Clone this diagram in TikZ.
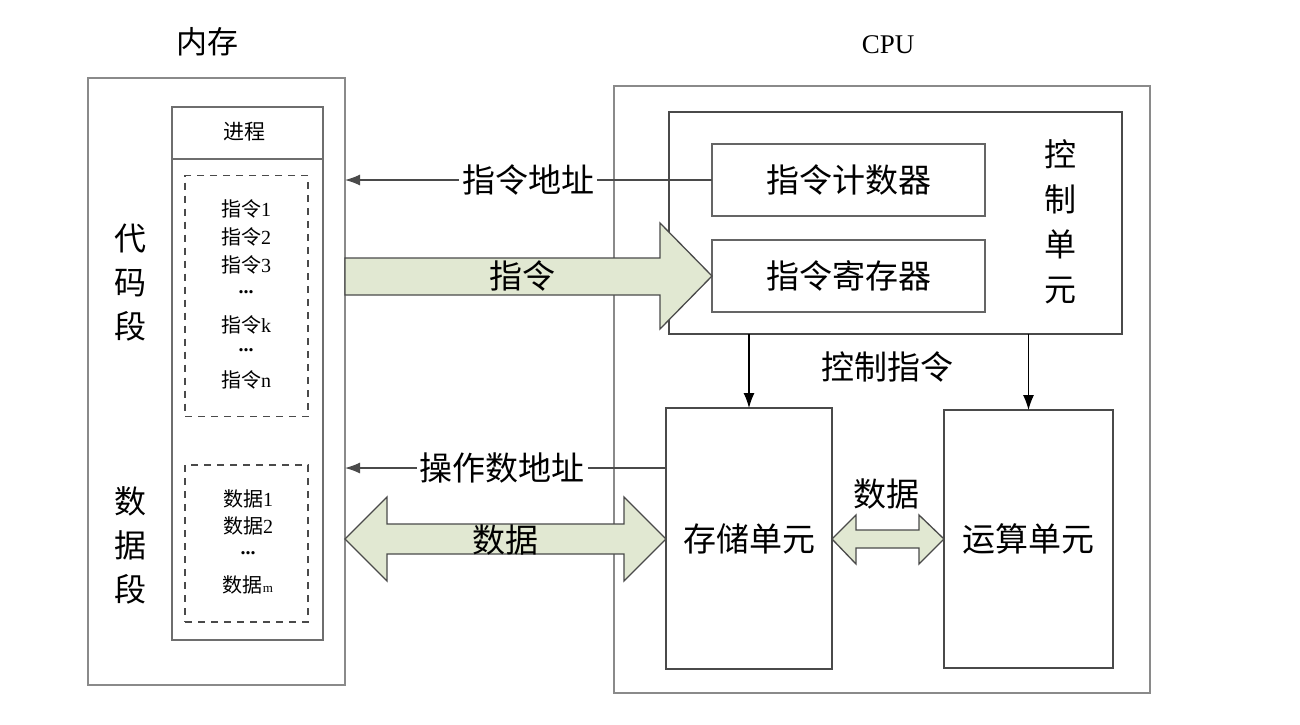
\documentclass[tikz,border=0pt]{standalone}
\usepackage{fontspec}
\setmainfont{Liberation Serif}
\newfontfamily\cjk{Noto Sans CJK SC}
\usetikzlibrary{arrows.meta,calc}
\definecolor{boxgray}{HTML}{8A8A8A}
\definecolor{darkgray}{HTML}{4A4A4A}
\definecolor{arrowfill}{HTML}{E1E8D2}
\begin{document}
\begin{tikzpicture}[x=1pt,y=-1pt,
  box/.style={draw=boxgray,line width=1.8pt,inner sep=0pt,outer sep=0pt},
  dbox/.style={draw=darkgray,line width=1.4pt,inner sep=0pt,outer sep=0pt},
  dashbox/.style={draw=darkgray,line width=1.3pt,dash pattern=on 7pt off 6pt,inner sep=0pt,outer sep=0pt},
  big/.style={font=\cjk\fontsize{33}{38}\selectfont,inner sep=1pt},
  mid/.style={font=\cjk\fontsize{21}{24}\selectfont,inner sep=1pt},
  small/.style={font=\cjk\fontsize{20}{23}\selectfont,inner sep=1pt},
  vert/.style={font=\cjk\fontsize{32}{44}\selectfont,align=center,inner sep=0pt},
  arr/.style={-{Latex[length=15pt,width=11pt]},line width=1.2pt,draw=black},
  barrow/.style={fill=arrowfill,draw=darkgray,line width=1.3pt,line join=miter}
]
\useasboundingbox (0,0) rectangle (1300,724);
\fill[white] (0,0) rectangle (1300,724);

% ---- memory side ----
\node[font=\cjk\fontsize{31}{34}\selectfont] (memlabel) at (207,42) {内存};
\node[box,minimum width=257,minimum height=607] (mem) at (216.5,381.5) {};
\node[box,draw=darkgray!80,minimum width=151,minimum height=533] (proc) at (247.5,373.5) {};
\draw[draw=darkgray!80,line width=1.8pt] (proc.west |- 0,159) -- (proc.east |- 0,159);
\node[mid] (proctitle) at (244,132) {进程};
\node[dashbox,minimum width=123,minimum height=241] (code) at (246.5,296) {};
\node[dashbox,minimum width=123,minimum height=157] (data) at (246.5,543.5) {};

\node[vert] (codelabel) at (130,283) {代\\码\\段};
\node[vert] (datalabel) at (130,545) {数\\据\\段};

\node[small] (i1) at (246,209) {\cjk 指令\rmfamily 1};
\node[small] (i2) at (246,237) {\cjk 指令\rmfamily 2};
\node[small] (i3) at (246,265) {\cjk 指令\rmfamily 3};
\node[small] (d1) at (246,292) {\rmfamily\bfseries ...};
\node[small] (ik) at (246,325) {\cjk 指令\rmfamily k};
\node[small] (d2) at (246,350) {\rmfamily\bfseries ...};
\node[small] (in) at (246,380) {\cjk 指令\rmfamily n};

\node[small] (s1) at (248,499) {\cjk 数据\rmfamily 1};
\node[small] (s2) at (248,526) {\cjk 数据\rmfamily 2};
\node[small] (s3) at (248,553) {\rmfamily\bfseries ...};
\node[small] (sm) at (248,585) {\cjk 数据\rmfamily\fontsize{13}{15}\selectfont m};

% ---- CPU side ----
\node[font=\rmfamily\fontsize{27}{30}\selectfont] (cpulabel) at (888,45) {CPU};
\node[box,minimum width=536,minimum height=607] (cpu) at (882,389.5) {};
\node[dbox,minimum width=453,minimum height=222] (ctrl) at (895.5,223) {};
\node[box,draw=darkgray!85,minimum width=273,minimum height=72] (pc) at (848.5,180) {};
\node[big] at (pc) {指令计数器};
\node[box,draw=darkgray!85,minimum width=273,minimum height=72] (ir) at (848.5,276) {};
\node[big] at (ir) {指令寄存器};
\node[vert,font=\cjk\fontsize{32}{45}\selectfont] (ctrllabel) at (1060,222) {控\\制\\单\\元};

\node[dbox,minimum width=166,minimum height=261] (store) at (749,538.5) {};
\node[big] at (store) {存储单元};
\node[dbox,minimum width=169,minimum height=258] (alu) at (1028.5,539) {};
\node[big] at (alu) {运算单元};

\node[big] (ctrlcmd) at (887,367) {控制指令};
\draw[arr] (store.north |- ctrl.south) -- (store.north);
\draw[arr] (alu.north |- ctrl.south) -- (alu.north);

% ---- address lines ----
\draw[arr,draw=darkgray] (pc.west) -- (pc.west -| mem.east);
\node[big,fill=white,inner sep=3pt] (addr1) at (528,180) {指令地址};
\draw[arr,draw=darkgray] (store.west |- 0,468) -- (mem.east |- 0,468);
\node[big,fill=white,inner sep=3pt] (addr2) at (502,468) {操作数地址};

% ---- block arrows ----
\draw[barrow] (mem.east |- 0,258) -- (660,258) -- (660,223) -- (ir.west) -- (660,329) -- (660,295) -- (mem.east |- 0,295) -- cycle;
\node[big] (instr) at (522,276) {指令};

\draw[barrow] (mem.east |- 0,539) -- (387,497) -- (387,524) -- (624,524) -- (624,497) -- (store.west |- 0,539)
  -- (624,581) -- (624,554) -- (387,554) -- (387,581) -- cycle;
\node[big] (datalbl) at (505,540) {数据};

\draw[barrow] (store.east |- 0,539) -- (856,515) -- (856,530) -- (919,530) -- (919,515) -- (alu.west |- 0,539)
  -- (919,564) -- (919,548) -- (856,548) -- (856,564) -- cycle;
\node[big] (datalbl2) at (886,494) {数据};
\end{tikzpicture}
\end{document}
